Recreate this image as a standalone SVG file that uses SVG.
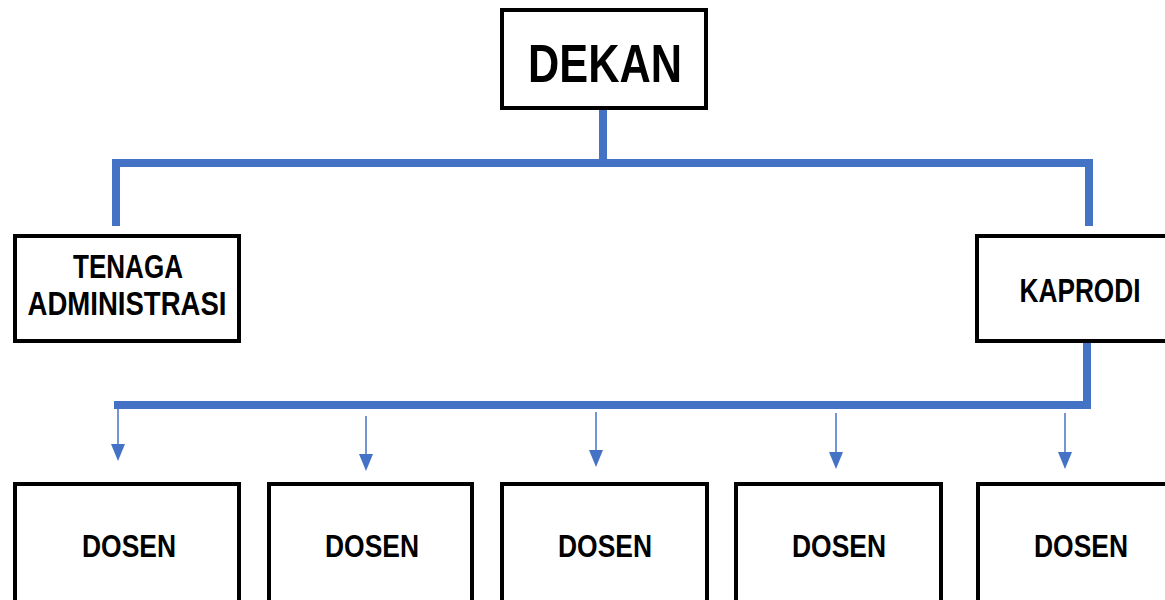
<svg xmlns="http://www.w3.org/2000/svg" width="1165" height="600" viewBox="0 0 1165 600">
<style>
.box{fill:#fff;stroke:#000;stroke-width:4}
.lbl{font-family:"Liberation Sans",Arial,sans-serif;font-weight:bold;fill:#000;text-anchor:middle}
.conn{fill:none;stroke:#4472C4;stroke-width:8;stroke-linejoin:miter;stroke-linecap:butt}
.arr{fill:none;stroke:#4472C4;stroke-width:1.5}
.head{fill:#4472C4}
</style>
<rect width="1165" height="600" fill="#fff"/>
<g id="connectors">
<path class="conn" d="M603,110 V163"/>
<path class="conn" d="M116,226 V163 H1089 V226"/>
<path class="conn" d="M1087,343 V405 H114"/>
<line class="arr" x1="118" y1="405" x2="118" y2="444"/>
<polygon class="head" points="111,444 125,444 118,461"/>
<line class="arr" x1="366" y1="416" x2="366" y2="454"/>
<polygon class="head" points="359,454 373,454 366,471"/>
<line class="arr" x1="596" y1="412" x2="596" y2="450"/>
<polygon class="head" points="589,450 603,450 596,467"/>
<line class="arr" x1="836" y1="413" x2="836" y2="452"/>
<polygon class="head" points="829,452 843,452 836,469"/>
<line class="arr" x1="1065" y1="413" x2="1065" y2="452"/>
<polygon class="head" points="1058,452 1072,452 1065,469"/>
</g>
<g id="dekan">
<rect class="box" x="502" y="10" width="204" height="98"/>
<text class="lbl" x="605" y="82" font-size="54" textLength="154" lengthAdjust="spacingAndGlyphs">DEKAN</text>
</g>
<g id="tenaga">
<rect class="box" x="15" y="236" width="224" height="105"/>
<text class="lbl" x="128" y="278" font-size="33" textLength="110" lengthAdjust="spacingAndGlyphs">TENAGA</text>
<text class="lbl" x="127" y="315" font-size="33" textLength="199" lengthAdjust="spacingAndGlyphs">ADMINISTRASI</text>
</g>
<g id="kaprodi">
<rect class="box" x="977" y="236" width="192" height="105"/>
<text class="lbl" x="1080" y="302" font-size="33" textLength="121" lengthAdjust="spacingAndGlyphs">KAPRODI</text>
</g>
<g id="dosen1">
<rect class="box" x="15" y="484" width="224" height="130"/>
<text class="lbl" x="129" y="557" font-size="31" textLength="94" lengthAdjust="spacingAndGlyphs">DOSEN</text>
</g>
<g id="dosen2">
<rect class="box" x="269" y="484" width="203" height="130"/>
<text class="lbl" x="372" y="557" font-size="31" textLength="94" lengthAdjust="spacingAndGlyphs">DOSEN</text>
</g>
<g id="dosen3">
<rect class="box" x="502" y="484" width="205" height="130"/>
<text class="lbl" x="605" y="557" font-size="31" textLength="94" lengthAdjust="spacingAndGlyphs">DOSEN</text>
</g>
<g id="dosen4">
<rect class="box" x="736" y="484" width="205" height="130"/>
<text class="lbl" x="839" y="557" font-size="31" textLength="94" lengthAdjust="spacingAndGlyphs">DOSEN</text>
</g>
<g id="dosen5">
<rect class="box" x="978" y="484" width="191" height="130"/>
<text class="lbl" x="1081" y="557" font-size="31" textLength="94" lengthAdjust="spacingAndGlyphs">DOSEN</text>
</g>
</svg>
